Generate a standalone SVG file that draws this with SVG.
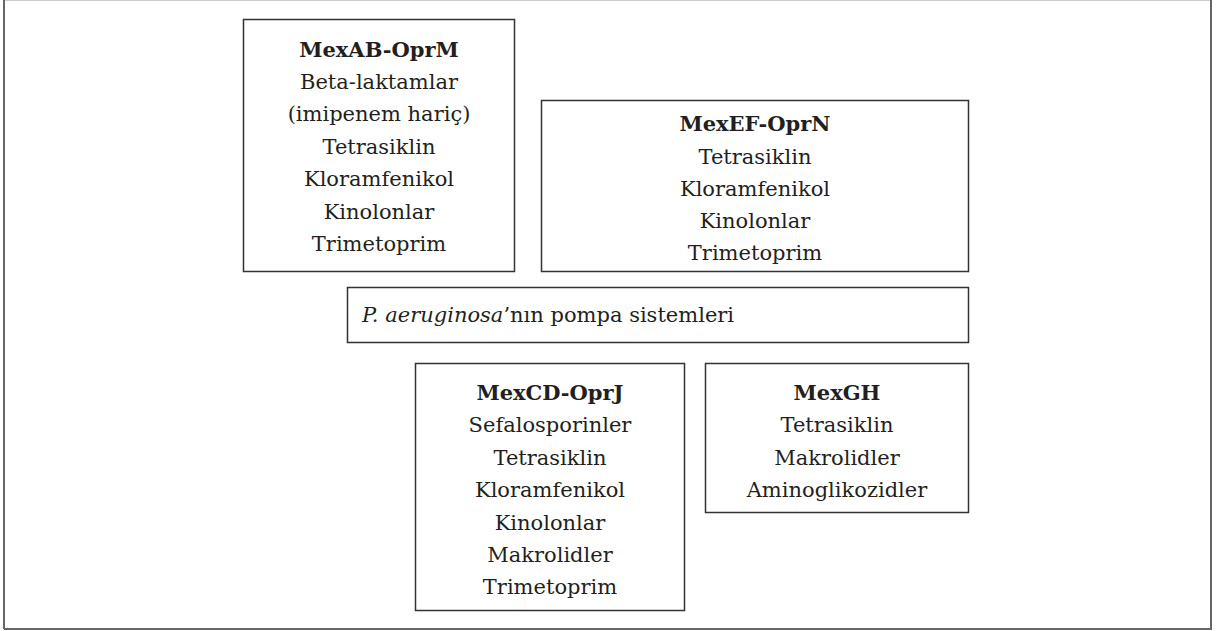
<svg xmlns="http://www.w3.org/2000/svg" width="1220" height="631" viewBox="0 0 1220 631">
<style>
.box{fill:#fff;stroke:#333;stroke-width:1.5}
.t{font-family:"DejaVu Serif","Liberation Serif",serif;font-size:21px;fill:#231f20;text-anchor:middle}
.b{font-weight:bold}
</style>
<rect x="0" y="0" width="1220" height="631" fill="#fff"/>
<g id="frame">
<line x1="4" y1="0.5" x2="1211" y2="0.5" stroke="#ccc" stroke-width="1"/>
<line x1="4" y1="0" x2="4" y2="629" stroke="#666" stroke-width="2"/>
<line x1="4" y1="629" x2="1212" y2="629" stroke="#666" stroke-width="2"/>
<line x1="1211" y1="0" x2="1211" y2="630" stroke="#666" stroke-width="2"/>
</g>
<g id="connectors"></g>
<g id="mexab">
<rect class="box" x="243.5" y="19.5" width="271" height="252"/>
<text class="t b" x="379" y="57">MexAB-OprM</text>
<text class="t" x="379" y="89">Beta-laktamlar</text>
<text class="t" x="379" y="121">(imipenem hariç)</text>
<text class="t" x="379" y="154">Tetrasiklin</text>
<text class="t" x="379" y="186">Kloramfenikol</text>
<text class="t" x="379" y="219">Kinolonlar</text>
<text class="t" x="379" y="251">Trimetoprim</text>
</g>
<g id="mexef">
<rect class="box" x="541.5" y="100.5" width="427" height="171"/>
<text class="t b" x="755" y="131">MexEF-OprN</text>
<text class="t" x="755" y="164">Tetrasiklin</text>
<text class="t" x="755" y="196">Kloramfenikol</text>
<text class="t" x="755" y="228">Kinolonlar</text>
<text class="t" x="755" y="260">Trimetoprim</text>
</g>
<g id="center">
<rect class="box" x="347.5" y="287.5" width="621" height="55"/>
<text class="t" x="362" y="322" text-anchor="start" style="text-anchor:start"><tspan font-style="italic">P. aeruginosa</tspan>’nın pompa sistemleri</text>
</g>
<g id="mexcd">
<rect class="box" x="415.5" y="363.5" width="269" height="247"/>
<text class="t b" x="550" y="400">MexCD-OprJ</text>
<text class="t" x="550" y="432">Sefalosporinler</text>
<text class="t" x="550" y="465">Tetrasiklin</text>
<text class="t" x="550" y="497">Kloramfenikol</text>
<text class="t" x="550" y="530">Kinolonlar</text>
<text class="t" x="550" y="562">Makrolidler</text>
<text class="t" x="550" y="594">Trimetoprim</text>
</g>
<g id="mexgh">
<rect class="box" x="705.5" y="363.5" width="263" height="149"/>
<text class="t b" x="837" y="400">MexGH</text>
<text class="t" x="837" y="432">Tetrasiklin</text>
<text class="t" x="837" y="465">Makrolidler</text>
<text class="t" x="837" y="497">Aminoglikozidler</text>
</g>
</svg>
